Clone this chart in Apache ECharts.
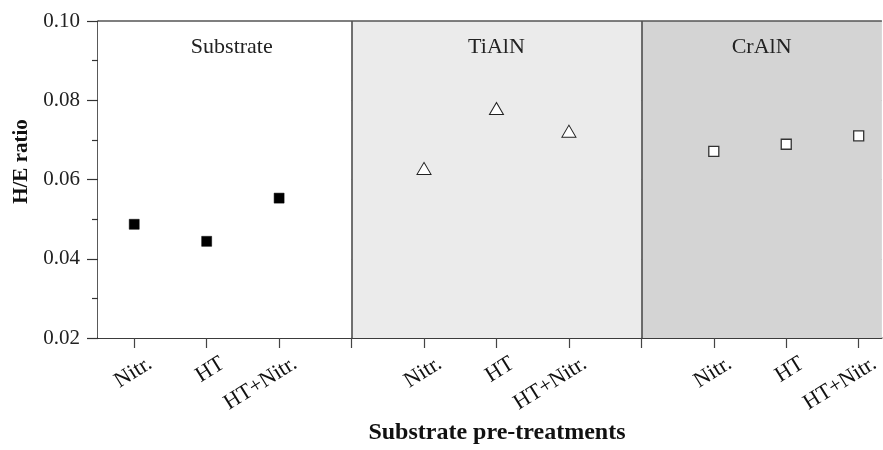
<!DOCTYPE html>
<html>
<head>
<meta charset="utf-8">
<script src="https://cdn.jsdelivr.net/npm/echarts@6/dist/echarts.min.js"></script>
<style>
  html, body { margin: 0; padding: 0; background: #fff; }
  #chart { width: 883px; height: 450px; }
</style>
</head>
<body>
<div id="chart"></div>
<script>
// Pre-treatment categories shown under each coating group
const categories = ['Nitr.', 'HT', 'HT+Nitr.'];
const groups = ['Substrate', 'TiAlN', 'CrAlN'];

// H/E ratio per pre-treatment
const substrateHE = [0.0487, 0.0444, 0.0553];
const tialnHE = [0.0628, 0.0779, 0.0722];
const cralnHE = [0.0671, 0.0689, 0.0710];

// Y axis range and step
const yMin = 0.02, yMax = 0.10, yStep = 0.02;

const FONT = '"Liberation Serif", "DejaVu Serif", serif';
const SLOT = categories.length + 1;      // one empty slot between groups
const LABEL_SHIFT = 0.22;                  // rotated labels sit right of their tick

function positions(g) {
  return categories.map((_, c) => g * SLOT + c);
}
function points(g, values) {
  const xs = positions(g);
  return values.map((v, i) => [xs[i], v]);
}

const tickValues = [];
const labelValues = [];
groups.forEach((_, g) => {
  positions(g).forEach(x => { tickValues.push(x); labelValues.push(x + LABEL_SHIFT); });
  if (g < groups.length - 1) tickValues.push(g * SLOT + categories.length);
});
const separators = groups.slice(1).map((_, g) => g * SLOT + categories.length);

const xMin = -0.5;
const xMax = (groups.length - 1) * SLOT + categories.length - 1 + 0.32;

const chart = echarts.init(document.getElementById('chart'), null, { renderer: 'canvas' });

chart.setOption({
  animation: false,
  backgroundColor: '#ffffff',
  grid: { left: 98, right: 1, top: 21, bottom: 100, containLabel: false },
  xAxis: {
    type: 'value',
    min: xMin,
    max: xMax,
    name: 'Substrate pre-treatments',
    nameLocation: 'middle',
    nameGap: 76,
    nameTextStyle: { fontFamily: FONT, fontSize: 24, fontWeight: 'bold', color: '#111',
                     padding: [0, 0, 0, 14] },
    axisLine: { show: true, onZero: false, lineStyle: { color: '#222', width: 1.5 } },
    axisTick: { show: true, inside: false, length: 10, customValues: tickValues,
                lineStyle: { color: '#444', width: 1.2 } },
    axisLabel: {
      show: true,
      customValues: labelValues,
      rotate: 32,
      margin: 24,
      fontFamily: FONT,
      fontSize: 22,
      color: '#111',
      formatter: v => categories[Math.round(v - LABEL_SHIFT) % SLOT] || ''
    },
    splitLine: { show: false }
  },
  yAxis: {
    type: 'value',
    min: yMin,
    max: yMax,
    interval: yStep,
    name: 'H/E ratio',
    nameLocation: 'middle',
    nameGap: 66,
    nameTextStyle: { fontFamily: FONT, fontSize: 21, fontWeight: 'bold', color: '#111',
                     padding: [0, 0, 0, 36] },
    axisLine: { show: true, onZero: false, lineStyle: { color: '#222', width: 1.5 } },
    axisTick: { show: true, inside: false, length: 11, lineStyle: { color: '#333', width: 1.2 } },
    minorTick: { show: true, splitNumber: 2, length: 6, lineStyle: { color: '#333', width: 1.2 } },
    axisLabel: {
      margin: 18,
      fontFamily: FONT,
      fontSize: 21,
      color: '#222',
      formatter: v => v.toFixed(2)
    },
    splitLine: { show: true, lineStyle: { color: '#8a8a8a', width: 1 } }
  },
  series: [
    {
      // group panels behind the grid lines
      type: 'scatter',
      z: -1,
      data: [],
      silent: true,
      markArea: {
        silent: true,
        label: {
          show: true,
          position: 'insideTop',
          distance: 15,
          fontFamily: FONT,
          fontSize: 22,
          color: '#222'
        },
        data: [
          [{ name: groups[0], xAxis: xMin, itemStyle: { color: '#ffffff' }, label: { offset: [7, 0] } }, { xAxis: separators[0] }],
          [{ name: groups[1], xAxis: separators[0], itemStyle: { color: '#ebebeb' } }, { xAxis: separators[1] }],
          [{ name: groups[2], xAxis: separators[1], itemStyle: { color: '#d4d4d4' } }, { xAxis: xMax }]
        ]
      }
    },
    {
      name: groups[0],
      type: 'scatter',
      z: 5,
      symbol: 'rect',
      symbolSize: 10,
      itemStyle: { color: '#000', borderColor: '#000', borderWidth: 0.5, opacity: 1 },
      data: points(0, substrateHE),
      markLine: {
        silent: true,
        symbol: 'none',
        label: { show: false },
        lineStyle: { color: '#444', width: 1.5, type: 'solid', opacity: 1 },
        data: separators.map(x => ({ xAxis: x })).concat([{ yAxis: yMax, lineStyle: { color: '#555', width: 1.5 } }])
      }
    },
    {
      name: groups[1],
      type: 'scatter',
      z: 5,
      symbol: 'triangle',
      symbolSize: [14, 12],
      itemStyle: { color: '#fff', borderColor: '#222', borderWidth: 1, opacity: 1 },
      data: points(1, tialnHE)
    },
    {
      name: groups[2],
      type: 'scatter',
      z: 5,
      symbol: 'rect',
      symbolSize: 10,
      itemStyle: { color: '#fff', borderColor: '#333', borderWidth: 1.3, opacity: 1 },
      data: points(2, cralnHE)
    }
  ]
});
</script>
</body>
</html>
